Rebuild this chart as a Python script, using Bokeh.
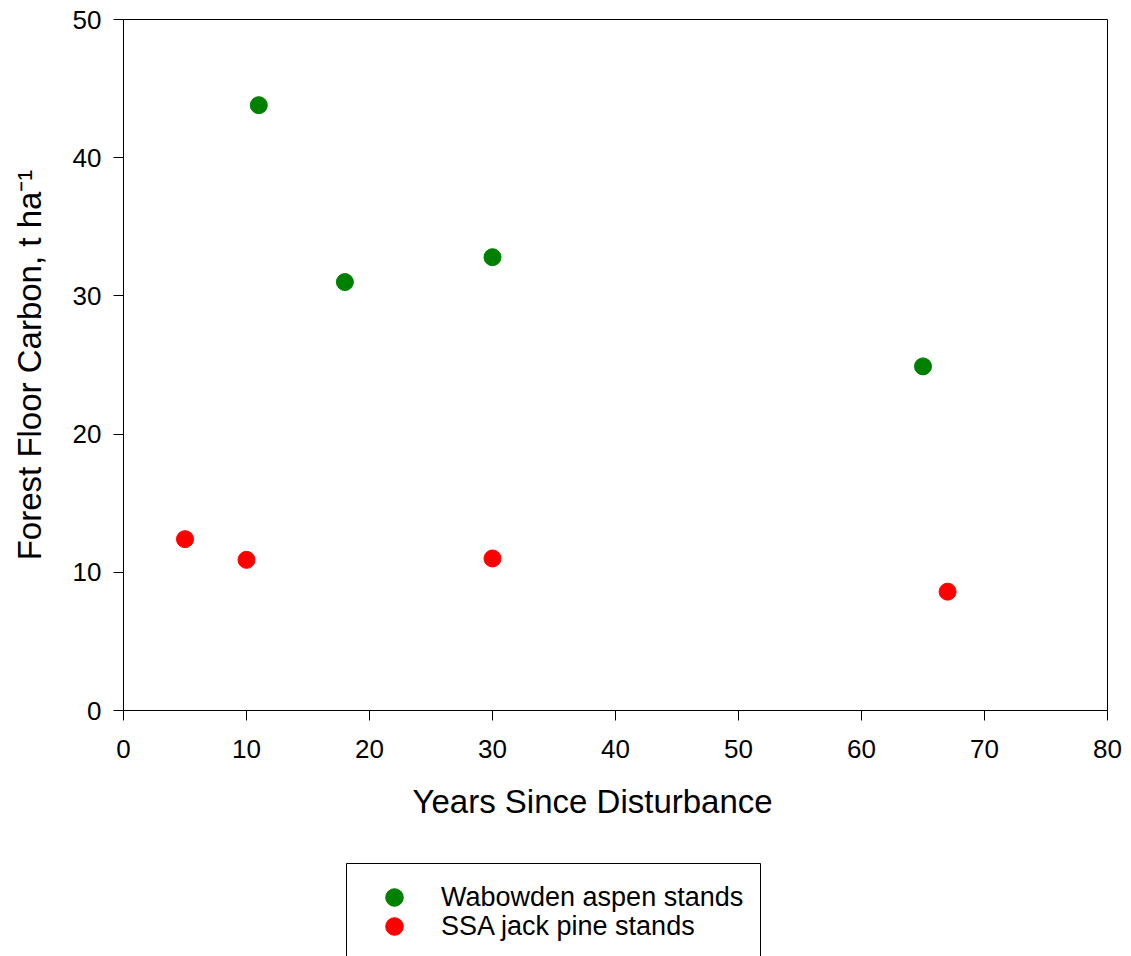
from bokeh.plotting import figure
from bokeh.models import Range1d, FixedTicker, Legend, LegendItem, ColumnDataSource, Title, BoxAnnotation
from bokeh.layouts import column
from bokeh.embed import file_html
from bokeh.resources import INLINE

# Data
aspen_years = [11, 18, 30, 65]
aspen_carbon = [43.8, 31.0, 32.8, 24.9]
pine_years = [5, 10, 30, 67]
pine_carbon = [12.4, 10.9, 11.0, 8.6]
x_ticks = [0, 10, 20, 30, 40, 50, 60, 70, 80]
y_ticks = [0, 10, 20, 30, 40, 50]
series_names = ["Wabowden aspen stands", "SSA jack pine stands"]
series_colors = ["#008000", "#ff0000"]
x_title = "Years Since Disturbance"
y_title = "Forest Floor Carbon, t ha\u207b\u00b9"

FONT = "Liberation Sans"

p = figure(
    width=1131, height=840,
    frame_width=984, frame_height=691,
    min_border_left=123, min_border_right=24, min_border_top=19, min_border_bottom=130,
    x_range=Range1d(0, 80), y_range=Range1d(0, 50),
    output_backend="svg", toolbar_location=None,
)
p.background_fill_color = "white"
p.border_fill_color = "white"
p.outline_line_color = "black"
p.outline_line_width = 1
p.xgrid.visible = False
p.ygrid.visible = False

for ax, ticks in ((p.xaxis[0], x_ticks), (p.yaxis[0], y_ticks)):
    ax.ticker = FixedTicker(ticks=ticks)
    ax.minor_tick_line_color = None
    ax.major_tick_in = 0
    ax.major_tick_out = 10
    ax.major_tick_line_color = "black"
    ax.major_tick_line_width = 1
    ax.axis_line_color = "black"
    ax.axis_line_width = 1
    ax.major_label_text_font = FONT
    ax.major_label_text_font_size = "26px"
    ax.major_label_text_color = "black"

p.xaxis.major_label_standoff = 19
p.yaxis.major_label_standoff = 12

p.yaxis.axis_label = y_title
p.yaxis.axis_label_text_font = FONT
p.yaxis.axis_label_text_font_size = "33px"
p.yaxis.axis_label_text_font_style = "normal"
p.yaxis.axis_label_text_color = "black"
p.yaxis.axis_label_standoff = 22

p.add_layout(Title(text=x_title, align="left", offset=289, standoff=40,
                   text_font=FONT, text_font_size="33px", text_font_style="normal",
                   text_color="black"), "below")

src_a = ColumnDataSource(dict(x=aspen_years, y=aspen_carbon))
src_p = ColumnDataSource(dict(x=pine_years, y=pine_carbon))
p.scatter("x", "y", source=src_a, size=17, fill_color=series_colors[0], line_color=series_colors[0])
p.scatter("x", "y", source=src_p, size=17, fill_color=series_colors[1], line_color=series_colors[1])

# Legend panel below the chart (its own small plot; the series lie outside its range)
q = figure(width=1131, height=116, frame_width=984, frame_height=116,
           x_range=Range1d(0, 1), y_range=Range1d(0, 1),
           x_axis_type=None, y_axis_type=None,
           min_border_left=123, min_border_right=24, min_border_top=0, min_border_bottom=0,
           output_backend="svg", toolbar_location=None)
q.outline_line_color = None
q.background_fill_color = "white"
q.border_fill_color = "white"
q.xgrid.visible = False
q.ygrid.visible = False
la = q.scatter(x=aspen_years, y=aspen_carbon, size=17,
               fill_color=series_colors[0], line_color=series_colors[0])
lp = q.scatter(x=pine_years, y=pine_carbon, size=17,
               fill_color=series_colors[1], line_color=series_colors[1])

q.add_layout(BoxAnnotation(left=223, right=637, top=93, bottom=-10,
                           left_units="screen", right_units="screen",
                           top_units="screen", bottom_units="screen",
                           fill_color=None, fill_alpha=0,
                           line_color="black", line_width=1, line_alpha=1))

for rend, name, vy in ((la, series_names[0], 37), (lp, series_names[1], 8)):
    lg = Legend(
        items=[LegendItem(label=name, renderers=[rend])],
        location=(249, vy),
        orientation="vertical",
        padding=0, spacing=0, margin=0,
        glyph_width=44, glyph_height=44, label_height=44,
        label_standoff=25,
        label_text_font=FONT, label_text_font_size="27px", label_text_color="black",
        border_line_color=None,
        background_fill_alpha=0,
    )
    q.add_layout(lg, "center")

layout = column(p, q, spacing=0)
open("out.html", "w").write(file_html(layout, INLINE))
